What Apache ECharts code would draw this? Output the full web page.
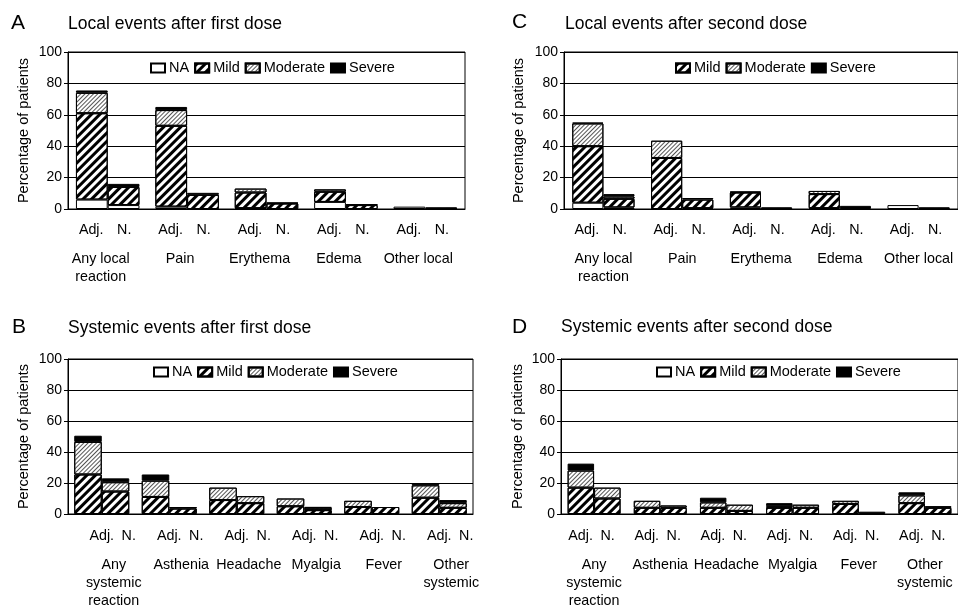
<!DOCTYPE html>
<html>
<head>
<meta charset="utf-8">
<script src="https://cdn.jsdelivr.net/npm/echarts@6/dist/echarts.min.js"></script>
<style>
html,body{margin:0;padding:0;background:#fff;}
#c{width:958px;height:608px;}
</style>
</head>
<body>
<div id="c"></div>
<script>
// ---------- DATA ----------
const localCats = ['Any local\nreaction', 'Pain', 'Erythema', 'Edema', 'Other local'];
const systemicCats = ['Any\nsystemic\nreaction', 'Asthenia', 'Headache', 'Myalgia', 'Fever', 'Other\nsystemic'];
const yTicks = [0, 20, 40, 60, 80, 100];

// Panel A: Local events after first dose
const A_adj_NA  = [6, 1.5, 0.5, 4.5, 1.5];
const A_adj_mild = [55, 51.5, 10, 6.5, 0];
const A_adj_mod = [13, 10, 2.5, 1.5, 0];
const A_adj_sev = [1.5, 2, 0, 0, 0];
const A_n_NA  = [2.5, 0, 0, 0, 0];
const A_n_mild = [11.5, 9, 3.5, 2.5, 1];
const A_n_mod = [0, 0, 0.5, 0.5, 0];
const A_n_sev = [2, 1.3, 0, 0, 0];

// Panel C: Local events after second dose
const C_adj_NA  = [4, 0, 1, 0.5, 2.5];
const C_adj_mild = [36, 32.5, 9.5, 9, 0];
const C_adj_mod = [14.5, 11, 0.5, 2, 0];
const C_adj_sev = [0.5, 0, 0, 0, 0];
const C_n_NA  = [1, 0.5, 0, 0, 0];
const C_n_mild = [5.5, 5.5, 1, 0, 1];
const C_n_mod = [1.5, 0, 0, 0, 0];
const C_n_sev = [1.5, 1, 0, 2, 0];

// Panel B: Systemic events after first dose
const B_adj_NA  = [0, 0, 0, 0, 0, 0];
const B_adj_mild = [25.5, 11, 9, 5, 4.5, 10.5];
const B_adj_mod = [21, 10.5, 8, 5, 4, 8];
const B_adj_sev = [4, 4, 0, 0, 0, 1];
const B_n_NA  = [0, 0, 0, 0, 0, 0];
const B_n_mild = [14.5, 3.5, 7, 2.5, 4.5, 4];
const B_n_mod = [6, 1, 4.5, 1.5, 0, 3];
const B_n_sev = [2.5, 0, 0, 0.5, 0, 2];

// Panel D: Systemic events after second dose
const D_adj_NA  = [0, 0, 0, 0, 0, 0];
const D_adj_mild = [17, 4, 4, 4, 6.5, 7];
const D_adj_mod = [11, 4.5, 3.5, 1, 2, 5];
const D_adj_sev = [4.5, 0, 3, 2, 0, 2];
const D_n_NA  = [0, 0, 0, 0, 0, 0];
const D_n_mild = [10, 4, 2, 4, 0, 4];
const D_n_mod = [7, 1.5, 4, 2, 0, 1];
const D_n_sev = [0, 0, 0, 0, 1.5, 0];

// ---------- STYLE ----------
const FONT = "'Liberation Sans', Arial, sans-serif";
const segNames = ['NA', 'Mild', 'Moderate', 'Severe'];
const segStyles = {
  'NA': { color: '#fff', borderColor: '#000', borderWidth: 1 },
  'Mild': { color: '#fff', borderColor: '#000', borderWidth: 1,
    decal: { symbol: 'rect', symbolSize: 1, color: '#000', dashArrayX: [1, 0], dashArrayY: [2.5, 2.5], rotation: -Math.PI / 4 } },
  'Moderate': { color: '#fff', borderColor: '#000', borderWidth: 1,
    decal: { symbol: 'rect', symbolSize: 1, color: '#555', dashArrayX: [1, 0], dashArrayY: [1, 1.2], rotation: -Math.PI / 4 } },
  'Severe': { color: '#000', borderColor: '#000', borderWidth: 1 }
};

const panels = [
  { cats: localCats, grid: { left: 68, top: 52, width: 397, height: 157 }, gap: '20%', nameGap: 37,
    adj: [A_adj_NA, A_adj_mild, A_adj_mod, A_adj_sev], n: [A_n_NA, A_n_mild, A_n_mod, A_n_sev],
    lab: { lead: 0, w: 33, catPad: [0, 14, 0, 0], margin: 1 } },
  { cats: localCats, grid: { left: 564, top: 52, width: 396, height: 157 }, gap: '21%', nameGap: 38,
    adj: [C_adj_NA, C_adj_mild, C_adj_mod, C_adj_sev], n: [C_n_NA, C_n_mild, C_n_mod, C_n_sev],
    lab: { lead: 0, w: 33, catPad: [0, 0, 0, 0], margin: 1 } },
  { cats: systemicCats, grid: { left: 68, top: 359, width: 405, height: 157 }, gap: '18.5%', nameGap: 37,
    adj: [B_adj_NA, B_adj_mild, B_adj_mod, B_adj_sev], n: [B_n_NA, B_n_mild, B_n_mod, B_n_sev],
    lab: { lead: 27, w: 27, catPad: [0, 0, 0, 24], margin: 2 } },
  { cats: systemicCats, grid: { left: 561, top: 359, width: 402, height: 157 }, gap: '20%', nameGap: 36,
    adj: [D_adj_NA, D_adj_mild, D_adj_mod, D_adj_sev], n: [D_n_NA, D_n_mild, D_n_mod, D_n_sev],
    lab: { lead: 0, w: 27, catPad: [0, 0, 0, 0], margin: 2 } }
];

const grids = [], xAxes = [], yAxes = [], series = [];
panels.forEach((p, i) => {
  grids.push(Object.assign({ show: true, borderColor: '#000', borderWidth: 1, backgroundColor: 'transparent' }, p.grid));
  const L = p.lab;
  xAxes.push({
    type: 'category', gridIndex: i, data: p.cats,
    axisLine: { lineStyle: { color: '#000', width: 1 } },
    axisTick: { show: false },
    axisLabel: {
      interval: 0, margin: L.margin, color: '#000', fontFamily: FONT, fontSize: 14.3,
      formatter: function (v) {
        const first = (L.lead ? '{s| }' : '') + '{a|Adj.}{n|N.}';
        return first + '\n' + v.split('\n').map(s => '{c|' + s + '}').join('\n');
      },
      rich: {
        s: { width: L.lead, lineHeight: 40, fontSize: 14.3, fontFamily: FONT },
        a: { width: L.w, align: 'center', lineHeight: 40, fontSize: 14.3, fontFamily: FONT, color: '#000' },
        n: { width: L.w, align: 'center', lineHeight: 40, fontSize: 14.3, fontFamily: FONT, color: '#000' },
        c: { lineHeight: 18, padding: L.catPad, fontSize: 14.3, fontFamily: FONT, color: '#000' }
      }
    }
  });
  yAxes.push({
    type: 'value', gridIndex: i, min: yTicks[0], max: yTicks[yTicks.length - 1], interval: 20,
    name: 'Percentage of patients', nameLocation: 'middle', nameGap: p.nameGap,
    nameTextStyle: { fontSize: 14.5, fontFamily: FONT, color: '#000' },
    axisLine: { show: true, lineStyle: { color: '#000', width: 1 } },
    axisTick: { show: true, length: 4, lineStyle: { color: '#000' } },
    axisLabel: { margin: 6, fontSize: 14, fontFamily: FONT, color: '#000' },
    splitLine: { show: true, lineStyle: { color: '#000', width: 1 } }
  });
  [['adj', p.adj], ['n', p.n]].forEach(([stk, arrs]) => {
    arrs.forEach((arr, k) => {
      series.push({
        type: 'bar', name: segNames[k], stack: stk + i,
        xAxisIndex: i, yAxisIndex: i,
        barGap: '0%', barCategoryGap: p.gap,
        itemStyle: segStyles[segNames[k]],
        emphasis: { disabled: true },
        data: arr.map(v => (v === 0 ? '-' : v))
      });
    });
  });
});

const legendBase = {
  orient: 'horizontal', icon: 'rect', itemWidth: 14, itemHeight: 9, itemGap: 5, padding: 0,
  textStyle: { fontSize: 14.5, fontFamily: FONT, color: '#000', lineHeight: 16, padding: [0, 0, 0, -1] },
  selectedMode: false
};
const legends = [
  Object.assign({}, legendBase, { left: 150, top: 60, data: ['NA', 'Mild', 'Moderate', 'Severe'] }),
  Object.assign({}, legendBase, { left: 675, top: 60, data: ['Mild', 'Moderate', 'Severe'] }),
  Object.assign({}, legendBase, { left: 153, top: 364, data: ['NA', 'Mild', 'Moderate', 'Severe'] }),
  Object.assign({}, legendBase, { left: 656, top: 364, data: ['NA', 'Mild', 'Moderate', 'Severe'] })
];

function txt(t, x, y, size) {
  return { type: 'text', x: x, y: y, silent: true,
    style: { text: t, fontSize: size, fontFamily: FONT, fill: '#000', verticalAlign: 'middle', align: 'left' } };
}
const graphics = [
  txt('A', 11, 23, 21), txt('Local events after first dose', 68, 24, 17.5),
  txt('C', 512, 22, 21), txt('Local events after second dose', 565, 24, 17.5),
  txt('B', 12, 327, 21), txt('Systemic events after first dose', 68, 328, 17.5),
  txt('D', 512, 327, 21), txt('Systemic events after second dose', 561, 327, 17.5)
];

const chart = echarts.init(document.getElementById('c'), null, { renderer: 'canvas' });
chart.setOption({
  animation: false,
  backgroundColor: '#fff',
  textStyle: { fontFamily: FONT },
  grid: grids, xAxis: xAxes, yAxis: yAxes, series: series,
  legend: legends, graphic: graphics
});
</script>
</body>
</html>
